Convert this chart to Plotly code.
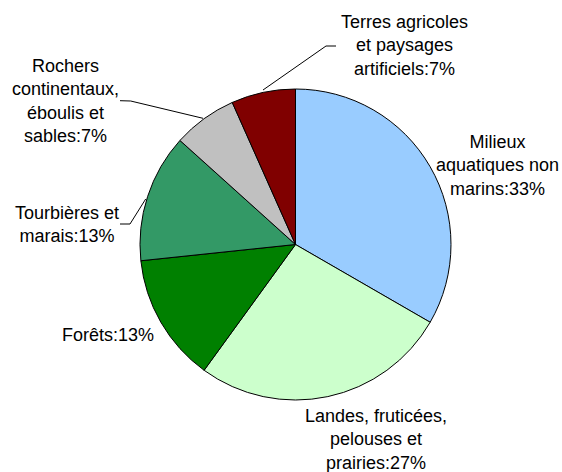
import plotly.graph_objects as go

W, H = 562, 472

# Data
categories = [
    "Milieux<br>aquatiques non<br>marins",
    "Landes, fruticées,<br>pelouses et<br>prairies",
    "Forêts",
    "Tourbières et<br>marais",
    "Rochers<br>continentaux,<br>éboulis et<br>sables",
    "Terres agricoles<br>et paysages<br>artificiels",
]
values = [5, 4, 2, 2, 1, 1]
colors = ["#99CCFF", "#CCFFCC", "#008000", "#339966", "#C0C0C0", "#800000"]

# Label placement (pixel centers) and leader lines (layout only)
label_pos = [(497, 165), (376, 439), (108, 335), (67, 224), (65, 101), (404, 46)]
leaders = {
    3: [(120, 224), (130, 224), (145.7, 199)],
    4: [(120, 100.7), (130.7, 101), (203, 118.3)],
    5: [(336, 46), (326, 46), (263, 90)],
}

cx, cy, r = 295.5, 244.5, 155.5

def px(x):
    return x / W

def py(y):
    return 1 - y / H

fig = go.Figure(go.Pie(
    labels=[c.replace("<br>", " ") for c in categories],
    values=values,
    sort=False,
    direction="clockwise",
    rotation=0,
    textinfo="none",
    hoverinfo="label+percent",
    marker=dict(colors=colors, line=dict(color="#000000", width=1)),
    domain=dict(x=[px(cx - r), px(cx + r)], y=[py(cy + r), py(cy - r)]),
    showlegend=False,
))

total = sum(values)
annotations = []
for i, (name, v) in enumerate(zip(categories, values)):
    pct = round(v / total * 100)
    x, y = label_pos[i]
    annotations.append(dict(
        x=px(x), y=py(y), xref="paper", yref="paper",
        text=f"{name}:{pct}%", showarrow=False,
        xanchor="center", yanchor="middle", align="center",
        font=dict(family="Liberation Sans, Arial, sans-serif", size=18, color="#000000"),
    ))

shapes = []
for i, pts in leaders.items():
    path = "M " + " L ".join(f"{px(x)},{py(y)}" for x, y in pts)
    shapes.append(dict(type="path", path=path, xref="paper", yref="paper",
                       line=dict(color="#000000", width=1)))

fig.update_layout(
    width=W, height=H,
    margin=dict(l=0, r=0, t=0, b=0),
    paper_bgcolor="#FFFFFF", plot_bgcolor="#FFFFFF",
    annotations=annotations, shapes=shapes,
)

fig.write_html("out.html", config={"displayModeBar": False},
               post_script="document.body.style.margin='0';document.body.style.overflow='hidden';")
